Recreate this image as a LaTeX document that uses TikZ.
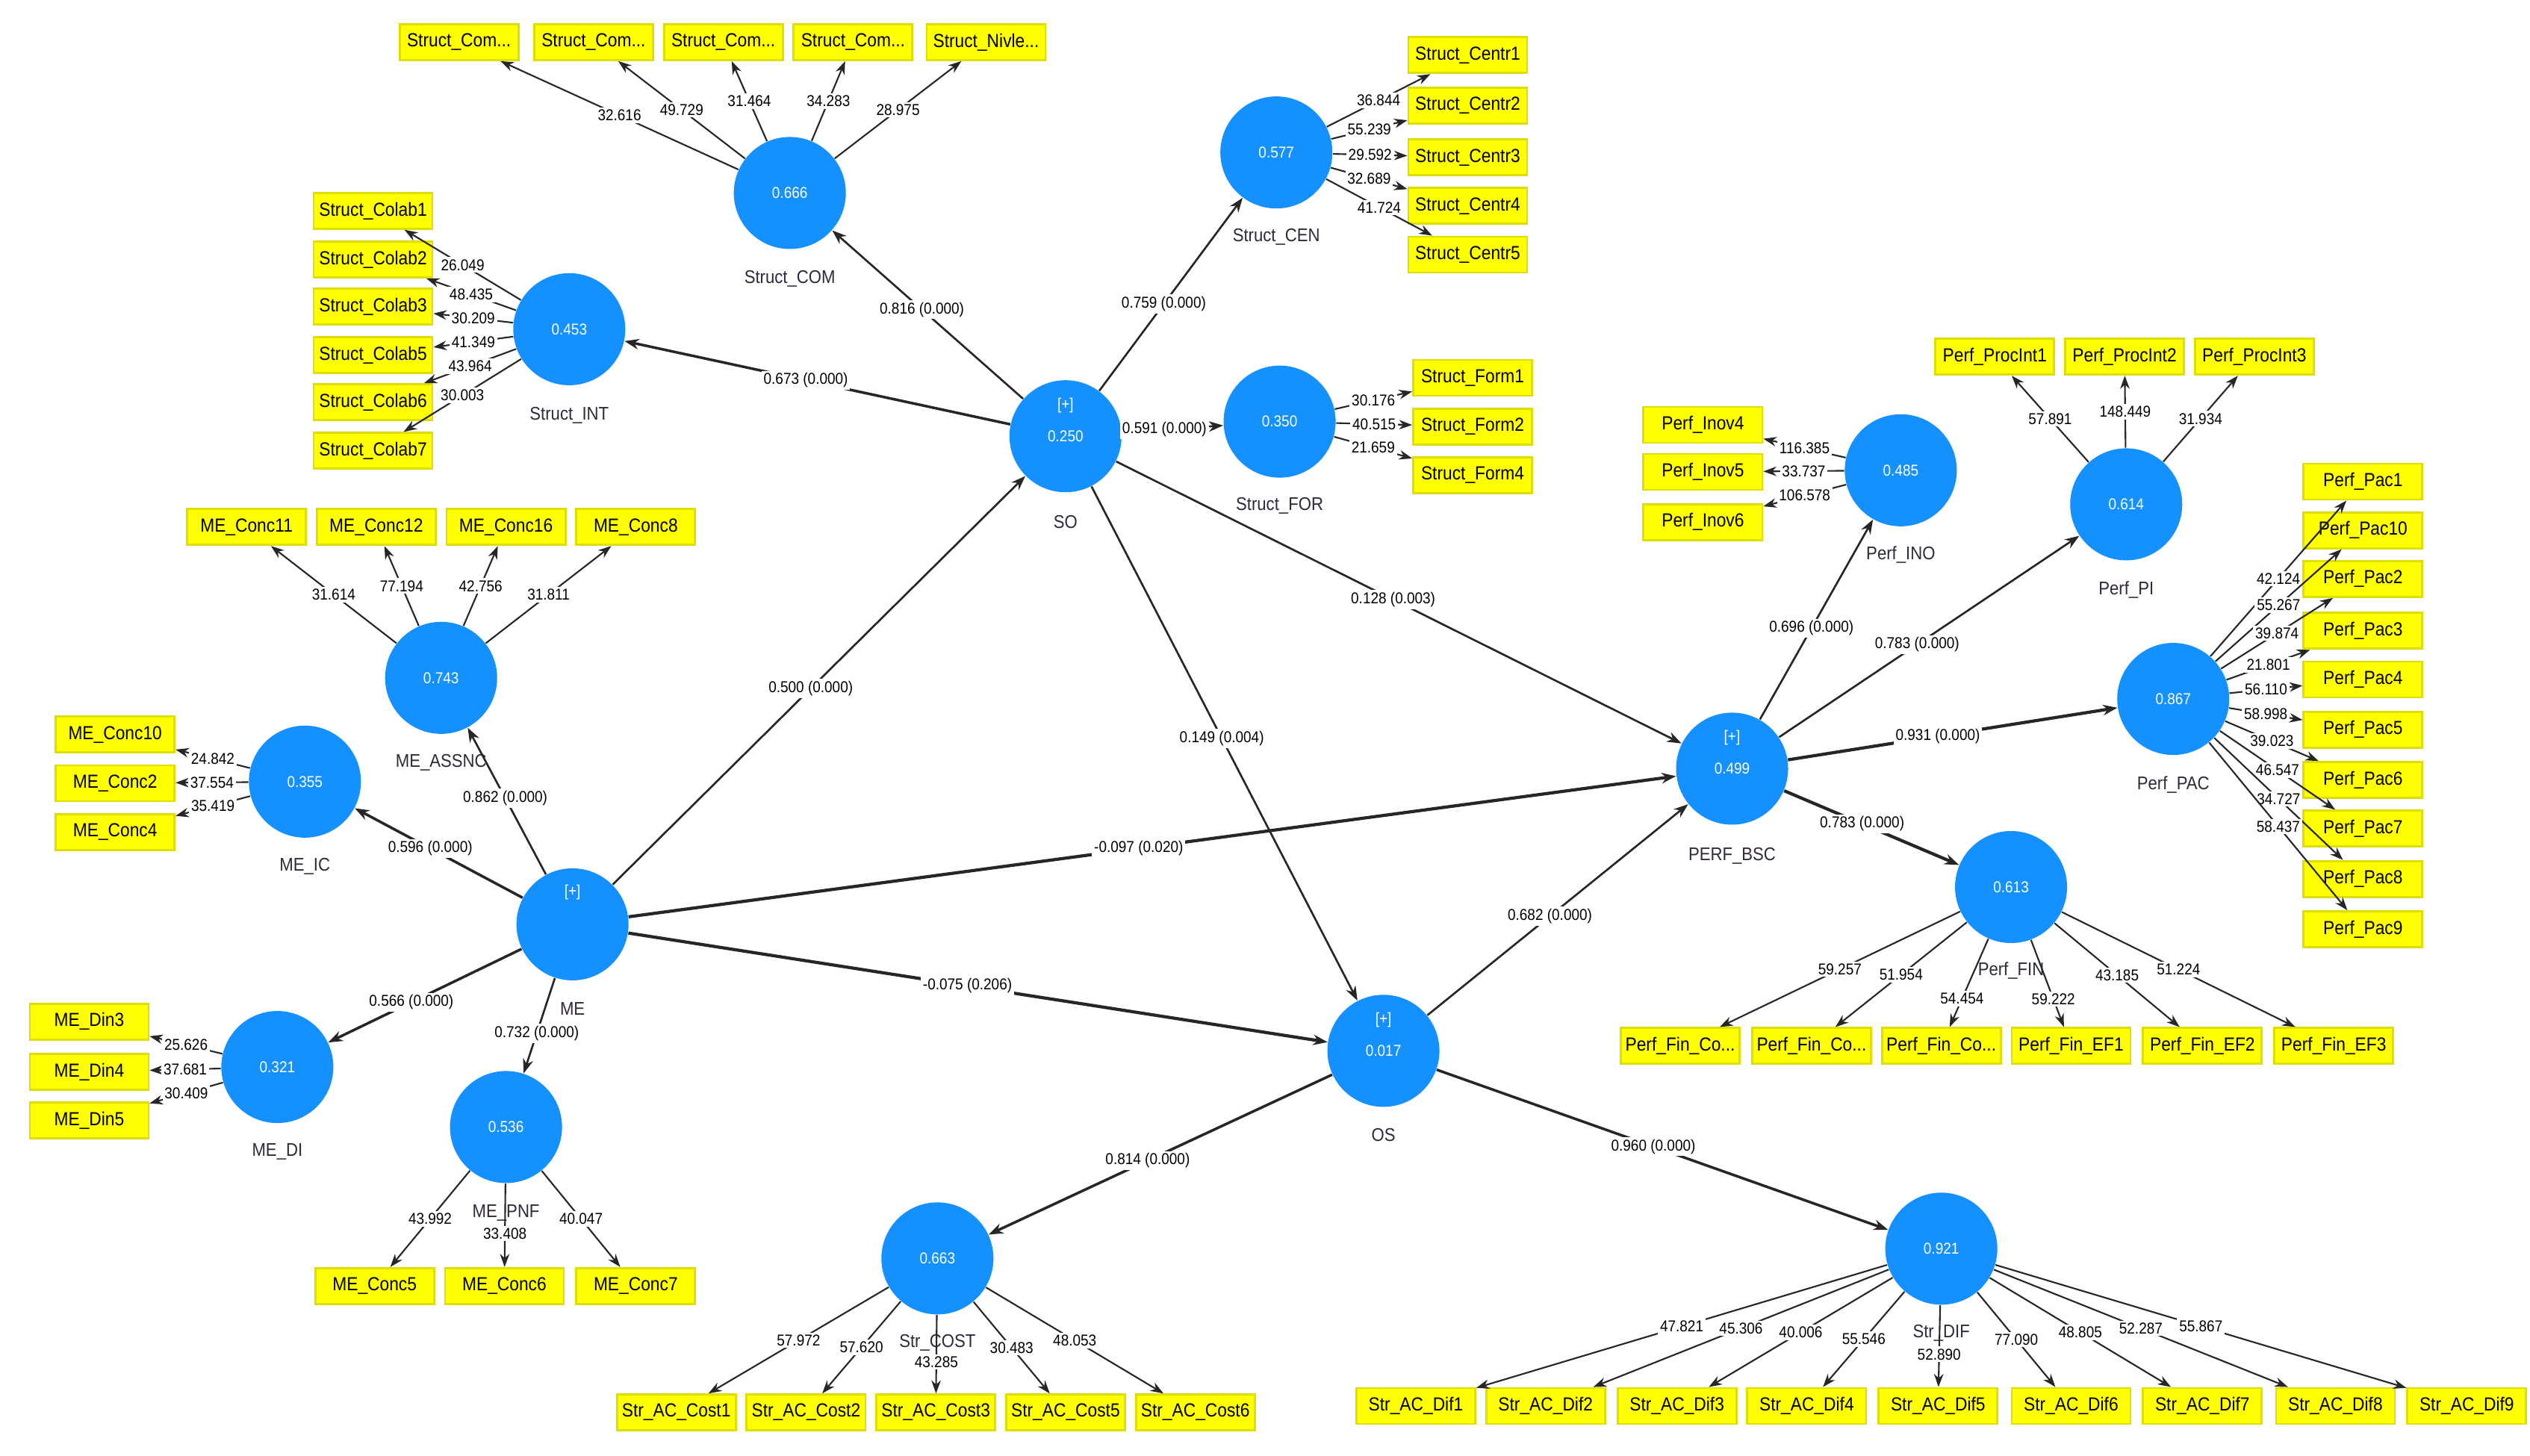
\documentclass[tikz,border=0pt]{standalone}
\usepackage{fontspec}
\setmainfont[FakeStretch=0.9]{Liberation Sans}
\usetikzlibrary{arrows.meta}
\definecolor{lvblue}{RGB}{20,145,255}
\definecolor{indyel}{RGB}{255,255,0}
\definecolor{indedge}{RGB}{222,222,0}
\definecolor{lvtext}{RGB}{50,40,60}
\newcommand\numfont{\fontsize{6}{7}\selectfont}
\newcommand\boxfont{\fontsize{7.2}{8}\selectfont}
\newcommand\namefont{\fontsize{7}{8}\selectfont}
\tikzset{
  lv/.style={circle, fill=lvblue, draw=none, minimum size=1.5cm, inner sep=0pt, text=white, font=\numfont},
  lvplus/.style={text=white, font=\numfont, inner sep=0pt},
  ind/.style={rectangle, fill=indyel, draw=indedge, line width=0.8pt, minimum width=1.59cm, minimum height=0.48cm, inner sep=0pt, font=\boxfont},
  lvname/.style={font=\namefont, text=lvtext, inner sep=0pt},
  plbl/.style={fill=white, inner sep=0.8pt, font=\numfont, text=black},
  ld/.style={draw=black!85, line width=0.6pt, -{Stealth[length=5pt,width=3.6pt]}},
  sp/.style={draw=black!85, line width=0.75pt, -{Stealth[length=5.5pt,width=4pt]}},
  spthick/.style={sp, line width=1.2pt}
}
\begin{document}
\begin{tikzpicture}[x=0.02172cm, y=-0.02172cm]
\useasboundingbox (0,0) rectangle (1560,897.8);
\fill[white] (0,0) rectangle (1560,897.8);

% ---------- latent variables ----------
\node[lv] (com) at (487,119) {0.666};
\node[lv] (int) at (351,203) {0.453};
\node[lv] (cen) at (787,94) {0.577};
\node[lv] (for) at (789,260) {0.350};
\node[lv] (so) at (657,269) {0.250};
\node[lv] (assnc) at (272,418) {0.743};
\node[lv] (ic) at (188,482) {0.355};
\node[lv] (me) at (353,570) {};
\node[lv] (di) at (171,658) {0.321};
\node[lv] (pnf) at (312,695) {0.536};
\node[lv] (os) at (853,648) {0.017};
\node[lv] (cost) at (578,776) {0.663};
\node[lv] (dif) at (1197,770) {0.921};
\node[lv] (bsc) at (1068,474) {0.499};
\node[lv] (ino) at (1172,290) {0.485};
\node[lv] (pi) at (1311,311) {0.614};
\node[lv] (pac) at (1340,431) {0.867};
\node[lv] (fin) at (1240,547) {0.613};

\node[lvplus] (soplus) at ([yshift=0.41cm]so.center) {[+]};
\node[lvplus] (meplus) at ([yshift=0.43cm]me.center) {[+]};
\node[lvplus] (osplus) at ([yshift=0.41cm]os.center) {[+]};
\node[lvplus] (bscplus) at ([yshift=0.41cm]bsc.center) {[+]};

\node[lvname] (ncom) at ([yshift=-1.15cm]com.center) {Struct\_COM};
\node[lvname] (nint) at ([yshift=-1.15cm]int.center) {Struct\_INT};
\node[lvname] (ncen) at ([yshift=-1.13cm]cen.center) {Struct\_CEN};
\node[lvname] (nfor) at ([yshift=-1.13cm]for.center) {Struct\_FOR};
\node[lvname] (nso) at ([yshift=-1.15cm]so.center) {SO};
\node[lvname] (nassnc) at ([yshift=-1.13cm]assnc.center) {ME\_ASSNC};
\node[lvname] (nic) at ([yshift=-1.13cm]ic.center) {ME\_IC};
\node[lvname] (nme) at ([yshift=-1.13cm]me.center) {ME};
\node[lvname] (ndi) at ([yshift=-1.13cm]di.center) {ME\_DI};
\node[lvname] (npnf) at ([yshift=-1.15cm]pnf.center) {ME\_PNF};
\node[lvname] (nos) at ([yshift=-1.13cm]os.center) {OS};
\node[lvname] (ncost) at ([yshift=-1.13cm]cost.center) {Str\_COST};
\node[lvname] (ndif) at ([yshift=-1.13cm]dif.center) {Str\_DIF};
\node[lvname] (nbsc) at ([yshift=-1.17cm]bsc.center) {PERF\_BSC};
\node[lvname] (nino) at ([yshift=-1.13cm]ino.center) {Perf\_INO};
\node[lvname] (npi) at ([yshift=-1.15cm]pi.center) {Perf\_PI};
\node[lvname] (npac) at ([yshift=-1.15cm]pac.center) {Perf\_PAC};
\node[lvname] (nfin) at ([yshift=-1.12cm]fin.center) {Perf\_FIN};

% ---------- indicators ----------
\node[ind] (c1) at (283,26) {Struct\_Com...};
\node[ind] (c2) at (366,26) {Struct\_Com...};
\node[ind] (c3) at (446,26) {Struct\_Com...};
\node[ind] (c4) at (526,26) {Struct\_Com...};
\node[ind] (c5) at (608,26) {Struct\_Nivle...};

\node[ind] (i1) at (230,130) {Struct\_Colab1};
\node[ind] (i2) at (230,160) {Struct\_Colab2};
\node[ind] (i3) at (230,189) {Struct\_Colab3};
\node[ind] (i5) at (230,219) {Struct\_Colab5};
\node[ind] (i6) at (230,248) {Struct\_Colab6};
\node[ind] (i7) at (230,278) {Struct\_Colab7};

\node[ind] (ce1) at (905,34) {Struct\_Centr1};
\node[ind] (ce2) at (905,65) {Struct\_Centr2};
\node[ind] (ce3) at (905,97) {Struct\_Centr3};
\node[ind] (ce4) at (905,127) {Struct\_Centr4};
\node[ind] (ce5) at (905,157) {Struct\_Centr5};

\node[ind] (f1) at (908,233) {Struct\_Form1};
\node[ind] (f2) at (908,263) {Struct\_Form2};
\node[ind] (f4) at (908,293) {Struct\_Form4};

\node[ind] (a11) at (152,325) {ME\_Conc11};
\node[ind] (a12) at (232,325) {ME\_Conc12};
\node[ind] (a16) at (312,325) {ME\_Conc16};
\node[ind] (a8) at (392,325) {ME\_Conc8};

\node[ind] (ic10) at (71,453) {ME\_Conc10};
\node[ind] (ic2) at (71,483) {ME\_Conc2};
\node[ind] (ic4) at (71,513) {ME\_Conc4};

\node[ind] (d3) at (55,630) {ME\_Din3};
\node[ind] (d4) at (55,661) {ME\_Din4};
\node[ind] (d5) at (55,691) {ME\_Din5};

\node[ind] (p5) at (231,793) {ME\_Conc5};
\node[ind] (p6) at (311,793) {ME\_Conc6};
\node[ind] (p7) at (392,793) {ME\_Conc7};

\node[ind] (k1) at (417,871) {Str\_AC\_Cost1};
\node[ind] (k2) at (497,871) {Str\_AC\_Cost2};
\node[ind] (k3) at (577,871) {Str\_AC\_Cost3};
\node[ind] (k5) at (657,871) {Str\_AC\_Cost5};
\node[ind] (k6) at (737,871) {Str\_AC\_Cost6};

\node[ind] (df1) at (873,867) {Str\_AC\_Dif1};
\node[ind] (df2) at (953,867) {Str\_AC\_Dif2};
\node[ind] (df3) at (1034,867) {Str\_AC\_Dif3};
\node[ind] (df4) at (1114,867) {Str\_AC\_Dif4};
\node[ind] (df5) at (1195,867) {Str\_AC\_Dif5};
\node[ind] (df6) at (1277,867) {Str\_AC\_Dif6};
\node[ind] (df7) at (1358,867) {Str\_AC\_Dif7};
\node[ind] (df8) at (1440,867) {Str\_AC\_Dif8};
\node[ind] (df9) at (1521,867) {Str\_AC\_Dif9};

\node[ind] (n4) at (1050,262) {Perf\_Inov4};
\node[ind] (n5) at (1050,291) {Perf\_Inov5};
\node[ind] (n6) at (1050,322) {Perf\_Inov6};

\node[ind] (pr1) at (1230,220) {Perf\_ProcInt1};
\node[ind] (pr2) at (1310,220) {Perf\_ProcInt2};
\node[ind] (pr3) at (1390,220) {Perf\_ProcInt3};

\node[ind] (pc1) at (1457,297) {Perf\_Pac1};
\node[ind] (pc10) at (1457,327) {Perf\_Pac10};
\node[ind] (pc2) at (1457,357) {Perf\_Pac2};
\node[ind] (pc3) at (1457,389) {Perf\_Pac3};
\node[ind] (pc4) at (1457,419) {Perf\_Pac4};
\node[ind] (pc5) at (1457,450) {Perf\_Pac5};
\node[ind] (pc6) at (1457,481) {Perf\_Pac6};
\node[ind] (pc7) at (1457,511) {Perf\_Pac7};
\node[ind] (pc8) at (1457,542) {Perf\_Pac8};
\node[ind] (pc9) at (1457,573) {Perf\_Pac9};

\node[ind] (fn1) at (1036,645) {Perf\_Fin\_Co...};
\node[ind] (fn2) at (1117,645) {Perf\_Fin\_Co...};
\node[ind] (fn3) at (1197,645) {Perf\_Fin\_Co...};
\node[ind] (fe1) at (1277,645) {Perf\_Fin\_EF1};
\node[ind] (fe2) at (1358,645) {Perf\_Fin\_EF2};
\node[ind] (fe3) at (1439,645) {Perf\_Fin\_EF3};

% ---------- structural paths ----------
\draw[sp] (so) -- node[plbl,pos=0.53] {0.816 (0.000)} (com);
\draw[sp, line width=1pt] (so) -- node[plbl,pos=0.53] {0.673 (0.000)} (int);
\draw[sp] (so) -- node[plbl,pos=0.45] {0.759 (0.000)} (cen);
\draw[sp] (so) -- node[plbl,pos=0.42] {0.591 (0.000)} (for);
\draw[sp] (so) -- node[plbl,pos=0.49] {0.128 (0.003)} (bsc);
\draw[sp] (so) -- node[plbl,pos=0.49] {0.149 (0.004)} (os);
\draw[sp] (me) -- node[plbl,pos=0.48] {0.500 (0.000)} (so);
\draw[sp] (me) -- node[plbl,pos=0.52] {0.862 (0.000)} (assnc);
\draw[sp, line width=1pt] (me) -- node[plbl,pos=0.55] {0.596 (0.000)} (ic);
\draw[sp, line width=1pt] (me) -- node[plbl,pos=0.57] {0.566 (0.000)} (di);
\draw[sp] (me) -- node[plbl,pos=0.58] {0.732 (0.000)} (pnf);
\draw[spthick] (me) -- node[plbl,pos=0.487] {-0.097 (0.020)} (bsc);
\draw[spthick] (me) -- node[plbl,pos=0.485] {-0.075 (0.206)} (os);
\draw[sp] (os) -- node[plbl,pos=0.47] {0.682 (0.000)} (bsc);
\draw[sp, line width=1pt] (os) -- node[plbl,pos=0.537] {0.814 (0.000)} (cost);
\draw[sp, line width=1pt] (os) -- node[plbl,pos=0.48] {0.960 (0.000)} (dif);
\draw[sp] (bsc) -- node[plbl,pos=0.456] {0.696 (0.000)} (ino);
\draw[sp] (bsc) -- node[plbl,pos=0.46] {0.783 (0.000)} (pi);
\draw[spthick] (bsc) -- node[plbl,pos=0.455] {0.931 (0.000)} (pac);
\draw[spthick] (bsc) -- node[plbl,pos=0.446] {0.783 (0.000)} (fin);

% ---------- outer loadings ----------
\draw[ld] (com) -- node[plbl] {32.616} (c1);
\draw[ld] (com) -- node[plbl] {49.729} (c2);
\draw[ld] (com) -- node[plbl] {31.464} (c3);
\draw[ld] (com) -- node[plbl] {34.283} (c4);
\draw[ld] (com) -- node[plbl] {28.975} (c5);

\draw[ld] (int) -- node[plbl] {26.049} (i1);
\draw[ld] (int) -- node[plbl] {48.435} (i2);
\draw[ld] (int) -- node[plbl] {30.209} (i3);
\draw[ld] (int) -- node[plbl] {41.349} (i5);
\draw[ld] (int) -- node[plbl] {43.964} (i6);
\draw[ld] (int) -- node[plbl] {30.003} (i7);

\draw[ld] (cen) -- node[plbl] {36.844} (ce1);
\draw[ld] (cen) -- node[plbl] {55.239} (ce2);
\draw[ld] (cen) -- node[plbl] {29.592} (ce3);
\draw[ld] (cen) -- node[plbl] {32.689} (ce4);
\draw[ld] (cen) -- node[plbl] {41.724} (ce5);

\draw[ld] (for) -- node[plbl] {30.176} (f1);
\draw[ld] (for) -- node[plbl] {40.515} (f2);
\draw[ld] (for) -- node[plbl] {21.659} (f4);

\draw[ld] (assnc) -- node[plbl] {31.614} (a11);
\draw[ld] (assnc) -- node[plbl] {77.194} (a12);
\draw[ld] (assnc) -- node[plbl] {42.756} (a16);
\draw[ld] (assnc) -- node[plbl] {31.811} (a8);

\draw[ld] (ic) -- node[plbl] {24.842} (ic10);
\draw[ld] (ic) -- node[plbl] {37.554} (ic2);
\draw[ld] (ic) -- node[plbl] {35.419} (ic4);

\draw[ld] (di) -- node[plbl] {25.626} (d3);
\draw[ld] (di) -- node[plbl] {37.681} (d4);
\draw[ld] (di) -- node[plbl] {30.409} (d5);

\draw[ld] (pnf) -- node[plbl] {43.992} (p5);
\draw[ld] (pnf) -- node[plbl,pos=0.6] {33.408} (p6);
\draw[ld] (pnf) -- node[plbl] {40.047} (p7);

\draw[ld] (cost) -- node[plbl] {57.972} (k1);
\draw[ld] (cost) -- node[plbl] {57.620} (k2);
\draw[ld] (cost) -- node[plbl,pos=0.6] {43.285} (k3);
\draw[ld] (cost) -- node[plbl] {30.483} (k5);
\draw[ld] (cost) -- node[plbl] {48.053} (k6);

\draw[ld] (dif) -- node[plbl] {47.821} (df1);
\draw[ld] (dif) -- node[plbl] {45.306} (df2);
\draw[ld] (dif) -- node[plbl] {40.006} (df3);
\draw[ld] (dif) -- node[plbl] {55.546} (df4);
\draw[ld] (dif) -- node[plbl,pos=0.6] {52.890} (df5);
\draw[ld] (dif) -- node[plbl] {77.090} (df6);
\draw[ld] (dif) -- node[plbl] {48.805} (df7);
\draw[ld] (dif) -- node[plbl] {52.287} (df8);
\draw[ld] (dif) -- node[plbl] {55.867} (df9);

\draw[ld] (ino) -- node[plbl] {116.385} (n4);
\draw[ld] (ino) -- node[plbl] {33.737} (n5);
\draw[ld] (ino) -- node[plbl] {106.578} (n6);

\draw[ld] (pi) -- node[plbl] {57.891} (pr1);
\draw[ld] (pi) -- node[plbl] {148.449} (pr2);
\draw[ld] (pi) -- node[plbl] {31.934} (pr3);

\draw[ld] (pac) -- node[plbl] {42.124} (pc1);
\draw[ld] (pac) -- node[plbl] {55.267} (pc10);
\draw[ld] (pac) -- node[plbl] {39.874} (pc2);
\draw[ld] (pac) -- node[plbl] {21.801} (pc3);
\draw[ld] (pac) -- node[plbl] {56.110} (pc4);
\draw[ld] (pac) -- node[plbl] {58.998} (pc5);
\draw[ld] (pac) -- node[plbl] {39.023} (pc6);
\draw[ld] (pac) -- node[plbl] {46.547} (pc7);
\draw[ld] (pac) -- node[plbl] {34.727} (pc8);
\draw[ld] (pac) -- node[plbl] {58.437} (pc9);

\draw[ld] (fin) -- node[plbl] {59.257} (fn1);
\draw[ld] (fin) -- node[plbl] {51.954} (fn2);
\draw[ld] (fin) -- node[plbl,pos=0.68] {54.454} (fn3);
\draw[ld] (fin) -- node[plbl,pos=0.68] {59.222} (fe1);
\draw[ld] (fin) -- node[plbl] {43.185} (fe2);
\draw[ld] (fin) -- node[plbl] {51.224} (fe3);
\end{tikzpicture}
\end{document}
